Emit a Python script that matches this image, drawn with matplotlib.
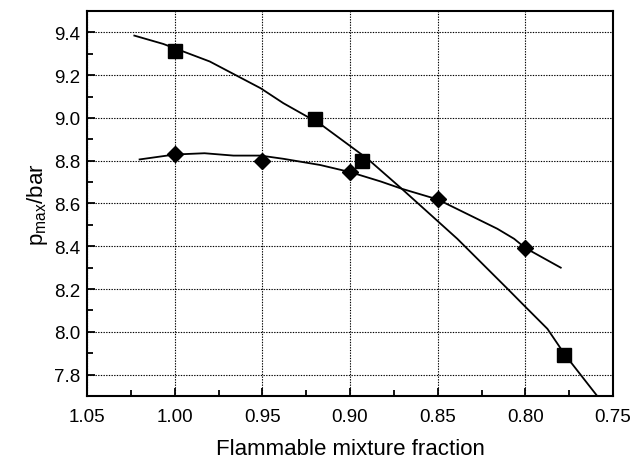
import matplotlib
matplotlib.use("Agg")
import matplotlib.pyplot as plt
from matplotlib.ticker import MultipleLocator

plt.rcParams["font.family"] = ["Liberation Sans", "DejaVu Sans"]
plt.rcParams["mathtext.default"] = "regular"

# Datos medidos (cuadrados y rombos)
x_cuadrados = [1.00, 0.92, 0.893, 0.778]
y_cuadrados = [9.315, 8.995, 8.797, 7.894]
x_rombos = [1.00, 0.95, 0.90, 0.85, 0.80]
y_rombos = [8.833, 8.797, 8.747, 8.619, 8.392]

# Curvas de ajuste
x_ajuste_cuad = [1.023, 1.0065, 0.980, 0.951, 0.938, 0.917, 0.890, 0.8705,
                 0.8388, 0.810, 0.8007, 0.7874, 0.7775, 0.759, 0.752]
y_ajuste_cuad = [9.385, 9.346, 9.264, 9.139, 9.069, 8.972, 8.809, 8.669,
                 8.435, 8.20, 8.123, 8.014, 7.894, 7.70, 7.62]
x_ajuste_romb = [1.020, 1.000, 0.983, 0.9665, 0.951, 0.938, 0.917, 0.900,
                 0.8825, 0.8705, 0.850, 0.816, 0.8064, 0.800, 0.7798]
y_ajuste_romb = [8.806, 8.829, 8.835, 8.824, 8.824, 8.809, 8.780, 8.747,
                 8.703, 8.669, 8.619, 8.482, 8.435, 8.392, 8.300]

fig = plt.figure(figsize=(6.34, 4.64), dpi=100)
ax = fig.add_axes([87 / 634, 1 - 397 / 464, 526 / 634, 385 / 464])

ax.plot(x_ajuste_cuad, y_ajuste_cuad, color="black", lw=1.3)
ax.plot(x_ajuste_romb, y_ajuste_romb, color="black", lw=1.3)
ax.plot(x_cuadrados, y_cuadrados, ls="none", marker="s", ms=10.5,
        color="black", zorder=3)
ax.plot(x_rombos, y_rombos, ls="none", marker="D", ms=8.5,
        color="black", zorder=3)

ax.set_xlim(1.05, 0.75)
ax.set_ylim(7.7, 9.5)
ax.xaxis.set_major_locator(MultipleLocator(0.05))
ax.xaxis.set_minor_locator(MultipleLocator(0.025))
ax.yaxis.set_major_locator(MultipleLocator(0.2))
ax.yaxis.set_minor_locator(MultipleLocator(0.1))
ax.xaxis.set_major_formatter(lambda v, p: f"{v:.2f}")
ax.yaxis.set_major_formatter(lambda v, p: f"{v:.1f}")

ax.tick_params(which="both", direction="in", top=False, right=False,
               labelsize=13.5, width=1.3)
ax.tick_params(which="major", length=6)
ax.tick_params(which="minor", length=4)
ax.tick_params(axis="x", pad=9)
ax.tick_params(axis="y", pad=5)

ax.grid(True, which="major", color="black", ls=(0, (1.2, 1.2)), lw=0.8)
ax.set_axisbelow(True)
for s in ax.spines.values():
    s.set_linewidth(1.5)

ax.set_xlabel("Flammable mixture fraction", fontsize=16, labelpad=9)
ax.set_ylabel("p$_{max}$/bar", fontsize=16, labelpad=3)

fig.savefig("out.png", dpi=100)
